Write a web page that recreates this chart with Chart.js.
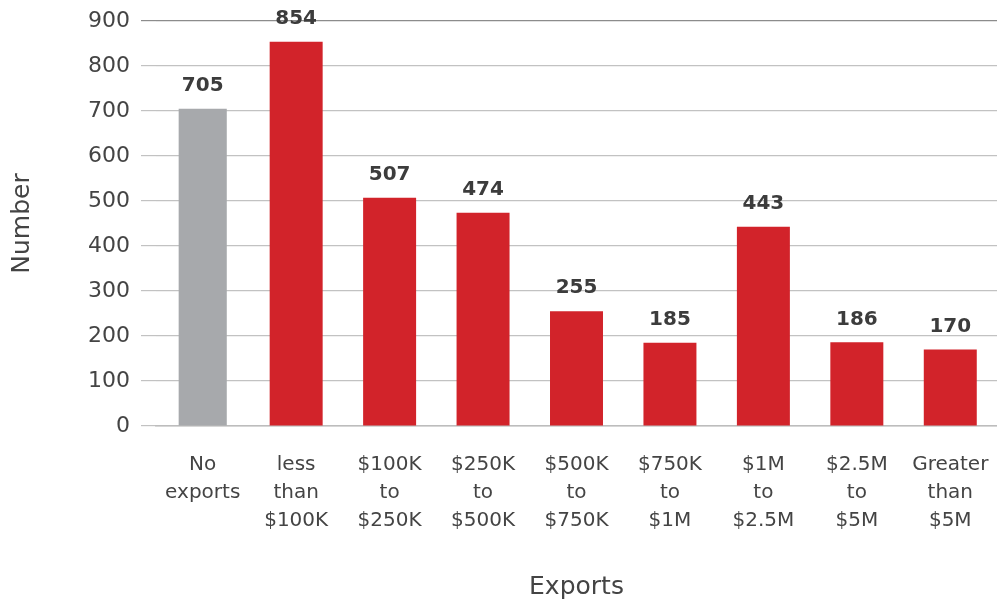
<!DOCTYPE html>
<html>
<head>
<meta charset="utf-8">
<script src="https://cdn.jsdelivr.net/npm/chart.js@4"></script>
<style>
  html, body { margin: 0; padding: 0; background: #fff; }
  #wrap { width: 997px; height: 606px; }
</style>
</head>
<body>
<div id="wrap"><canvas id="c" width="997" height="606"></canvas></div>
<script>
// Number of firms by export value band
const categories = [
  ["No", "exports"],
  ["less", "than", "$100K"],
  ["$100K", "to", "$250K"],
  ["$250K", "to", "$500K"],
  ["$500K", "to", "$750K"],
  ["$750K", "to", "$1M"],
  ["$1M", "to", "$2.5M"],
  ["$2.5M", "to", "$5M"],
  ["Greater", "than", "$5M"]
];
const noExports = [705, null, null, null, null, null, null, null, null];
const withExports = [null, 854, 507, 474, 255, 185, 443, 186, 170];
const yTicks = [0, 100, 200, 300, 400, 500, 600, 700, 800, 900];

const FONT = "'DejaVu Sans', sans-serif";
const TEXT = "#444444";

// Bold value labels above each bar
const valueLabels = {
  id: "valueLabels",
  afterDatasetsDraw(chart) {
    const ctx = chart.ctx;
    ctx.save();
    ctx.font = "bold 20px " + FONT;
    ctx.fillStyle = "#3c3c3c";
    ctx.textAlign = "center";
    ctx.textBaseline = "middle";
    chart.data.datasets.forEach((ds, di) => {
      const meta = chart.getDatasetMeta(di);
      ds.data.forEach((v, i) => {
        if (v == null) return;
        const el = meta.data[i];
        ctx.fillText(String(v), el.x, el.y - 23);
      });
    });
    ctx.restore();
  }
};

new Chart(document.getElementById("c"), {
  type: "bar",
  data: {
    labels: categories,
    datasets: [
      {
        data: noExports,
        backgroundColor: "#a7a9ac",
        barPercentage: 0.515,
        categoryPercentage: 1
      },
      {
        data: withExports,
        backgroundColor: "#d2232a",
        barPercentage: 0.567,
        categoryPercentage: 1
      }
    ]
  },
  options: {
    responsive: false,
    animation: false,
    layout: { padding: { top: 21, right: 0, left: 0, bottom: 4 } },
    plugins: {
      legend: { display: false },
      tooltip: { enabled: false }
    },
    scales: {
      x: {
        stacked: true,
        afterFit(axis) {
          axis.height = 176;
          axis.paddingLeft = 0;
          axis.paddingRight = 0;
        },
        grid: { display: false, drawTicks: false },
        border: { display: true, color: "#bdbdbd", width: 1.5 },
        ticks: {
          color: TEXT,
          font: { family: FONT, size: 20, lineHeight: 1.4 },
          padding: 25,
          maxRotation: 0,
          autoSkip: false
        },
        title: {
          display: true,
          text: "Exports",
          color: TEXT,
          font: { family: FONT, size: 25 },
          padding: { top: 0, bottom: 0 }
        }
      },
      y: {
        min: 0,
        max: 900,
        afterBuildTicks(axis) {
          axis.ticks = yTicks.map(v => ({ value: v }));
        },
        afterFit(axis) {
          axis.width = 156;
          axis.paddingTop = 0;
          axis.paddingBottom = 0;
        },
        grid: {
          color: ctx => (ctx.tick && ctx.tick.value === 900 ? "#8c8c8c" : "#c2c2c2"),
          lineWidth: 1.2,
          drawTicks: true,
          tickLength: 15
        },
        border: { display: false },
        ticks: {
          color: TEXT,
          font: { family: FONT, size: 22 },
          padding: 11
        },
        title: {
          display: true,
          text: "Number",
          color: TEXT,
          font: { family: FONT, size: 25 },
          padding: { top: 7, bottom: 0 }
        }
      }
    }
  },
  plugins: [valueLabels]
});
</script>
</body>
</html>
